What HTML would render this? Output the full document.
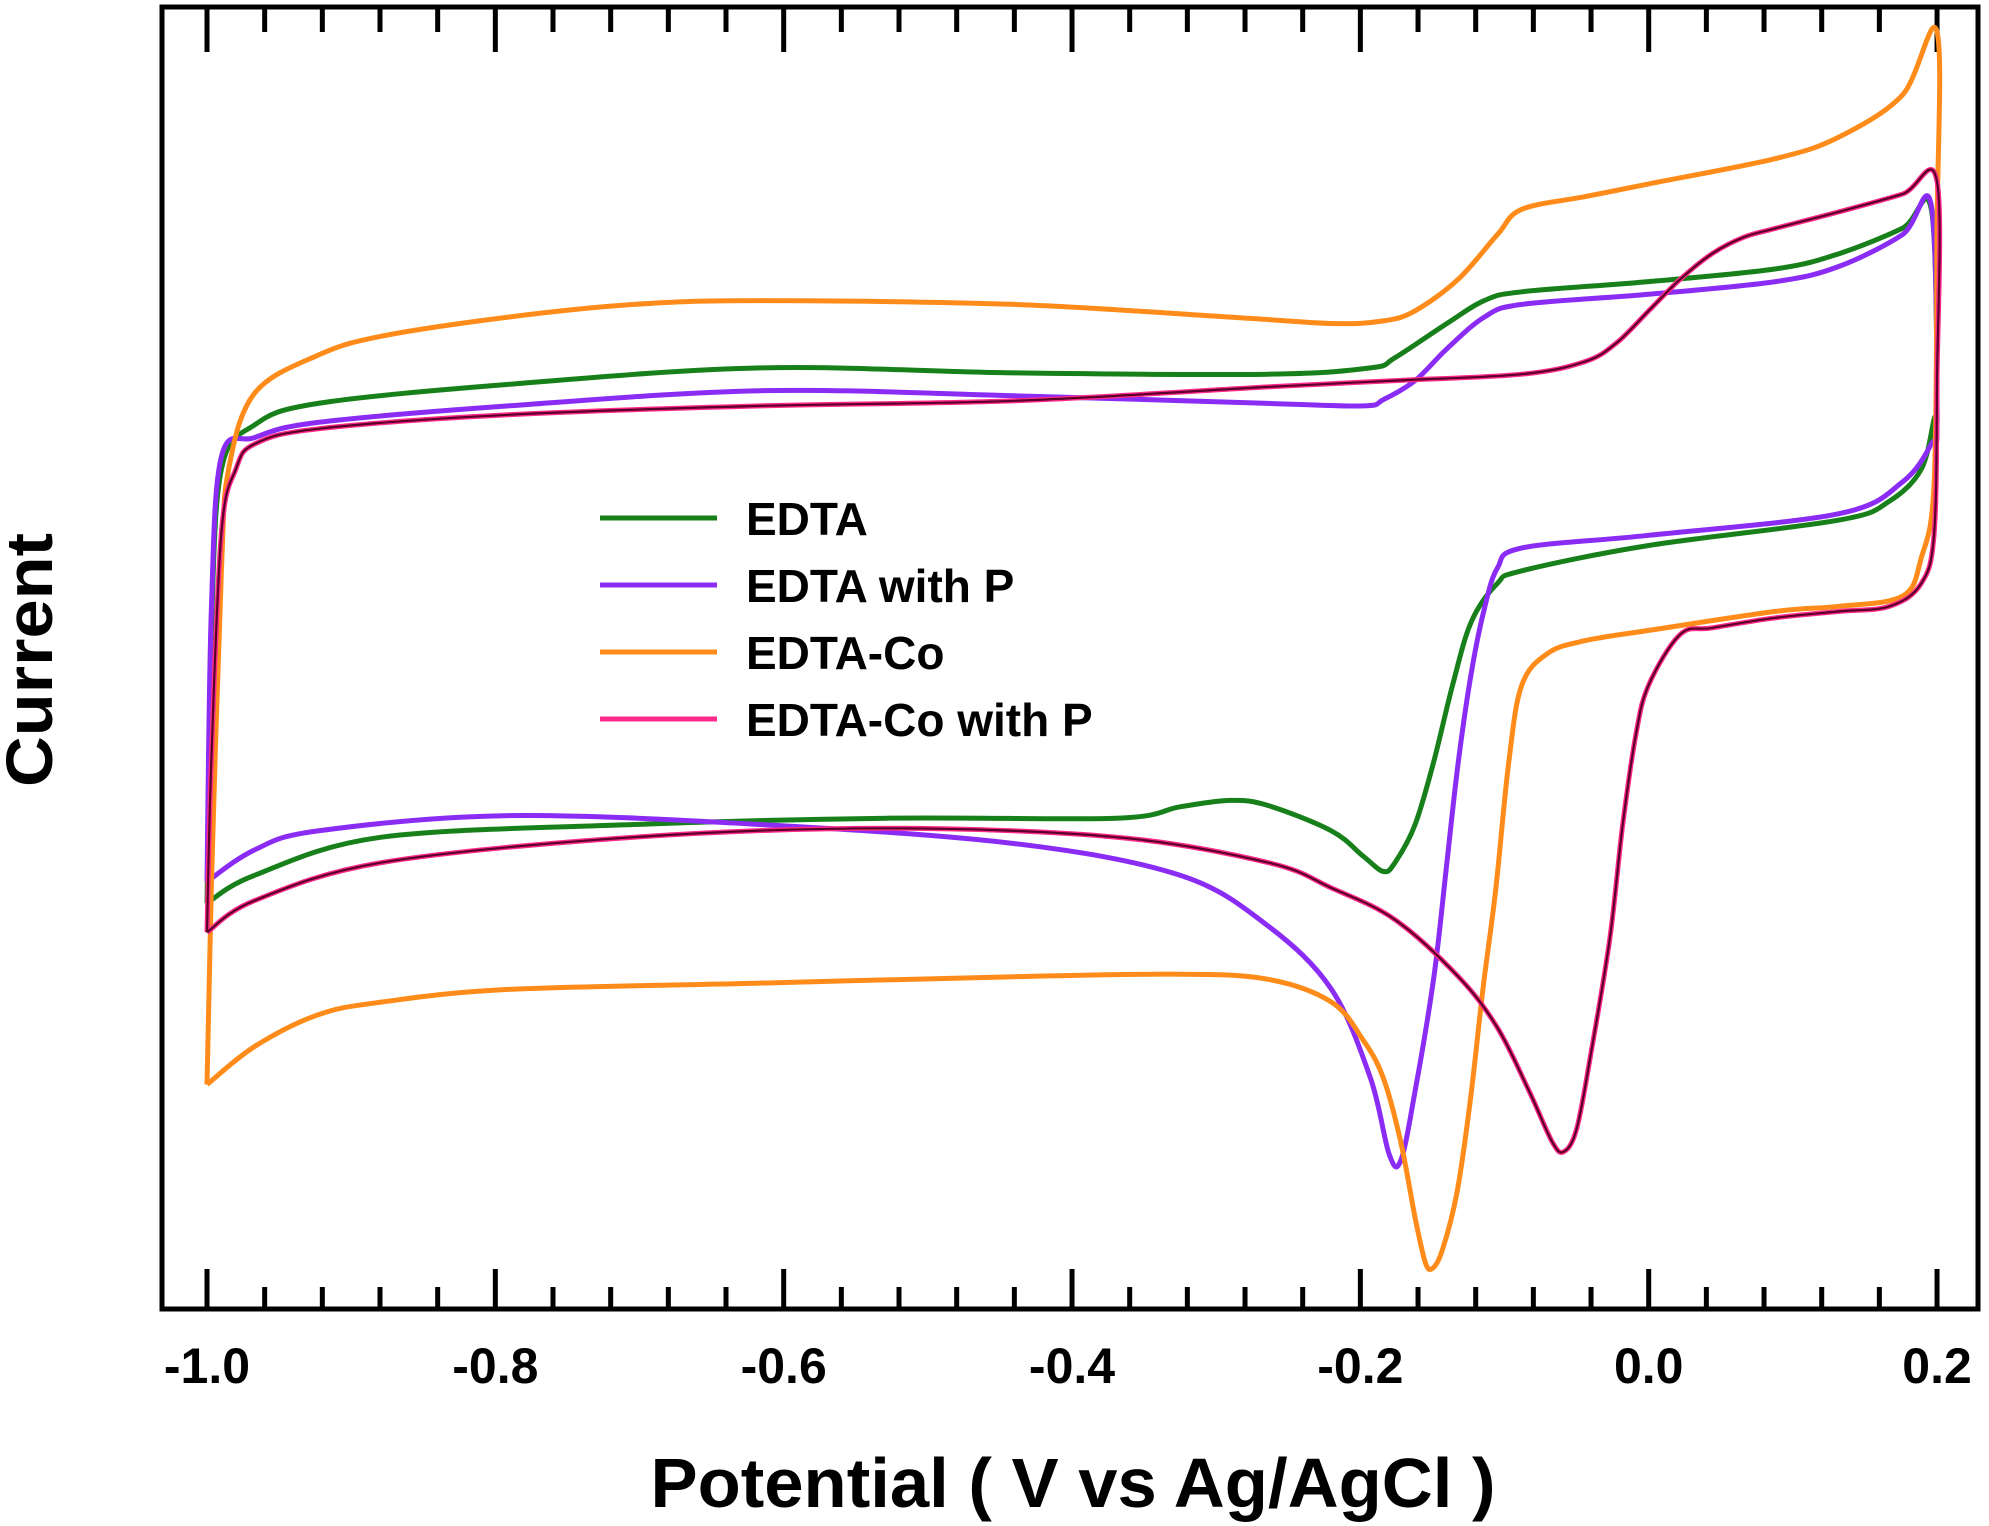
<!DOCTYPE html>
<html><head><meta charset="utf-8"><style>
html,body{margin:0;padding:0;background:#fff;}
svg{display:block;font-family:"Liberation Sans",Arial,sans-serif;}
</style></head><body>
<svg id="chart" width="1989" height="1526" viewBox="0 0 1989 1526" xmlns="http://www.w3.org/2000/svg">
<g id="ticks"></g>
<g id="series"></g>
<rect x="162" y="7" width="1816" height="1302" fill="none" stroke="#000" stroke-width="5"/>
<g id="xlabels" font-weight="bold" font-size="50" text-anchor="middle"></g>
<text x="1073" y="1507" font-size="70" font-weight="bold" text-anchor="middle" textLength="845" lengthAdjust="spacingAndGlyphs">Potential ( V vs Ag/AgCl )</text>
<text transform="translate(52,660) rotate(-90)" font-size="66" font-weight="bold" text-anchor="middle" textLength="254" lengthAdjust="spacingAndGlyphs">Current</text>
<g id="legend" font-size="46" font-weight="bold"></g>
</svg>
<script>
const tickLabels = ["-1.0","-0.8","-0.6","-0.4","-0.2","0.0","0.2"];
const tickValues = [-1.0,-0.8,-0.6,-0.4,-0.2,0.0,0.2];
const seriesNames = ["EDTA","EDTA with P","EDTA-Co","EDTA-Co with P"];
const edtaE = [-1.0,-0.997,-0.99,-0.967,-0.923,-0.791,-0.616,-0.44,-0.264,-0.193,-0.176,-0.14,-0.114,-0.088,0.0,0.088,0.132,0.176,0.196,0.2,0.198,0.189,0.167,0.132,0.0,-0.088,-0.105,-0.123,-0.136,-0.149,-0.162,-0.176,-0.184,-0.198,-0.22,-0.264,-0.29,-0.325,-0.369,-0.528,-0.704,-0.879,-0.967,-1.0];
const edtaI = [32.0,53.2,66.2,69.7,71.4,72.9,74.2,73.8,73.7,74.2,75.0,77.7,79.5,80.2,81.0,82.0,83.2,85.2,86.7,71.2,70.2,66.2,63.7,62.2,60.2,58.2,57.2,54.2,49.2,43.2,38.2,35.2,34.5,35.7,37.7,39.7,40.1,39.6,38.7,38.7,38.2,37.2,34.2,32.0];
const edtaPE = [-1.0,-0.997,-0.99,-0.967,-0.923,-0.791,-0.616,-0.44,-0.264,-0.198,-0.184,-0.162,-0.14,-0.114,-0.088,0.0,0.088,0.132,0.176,0.196,0.2,0.196,0.176,0.132,0.0,-0.088,-0.105,-0.114,-0.123,-0.132,-0.14,-0.149,-0.162,-0.172,-0.18,-0.193,-0.22,-0.264,-0.325,-0.44,-0.616,-0.791,-0.923,-0.967,-1.0];
const edtaPI = [33.7,55.0,67.2,68.7,69.9,71.2,72.4,72.0,71.4,71.2,71.7,73.2,75.7,78.2,79.2,80.0,81.0,82.2,84.7,87.0,70.2,68.2,65.2,62.7,61.0,60.0,58.4,55.2,50.2,43.2,35.2,26.2,17.2,11.7,12.2,18.2,25.2,30.2,34.2,36.7,38.2,38.9,37.7,36.2,33.7];
const coE = [-1.0,-0.997,-0.99,-0.985,-0.967,-0.923,-0.879,-0.791,-0.704,-0.616,-0.44,-0.29,-0.22,-0.184,-0.162,-0.132,-0.105,-0.088,-0.044,0.0,0.088,0.132,0.176,0.2,0.2,0.198,0.189,0.176,0.132,0.088,0.0,-0.044,-0.07,-0.088,-0.097,-0.106,-0.115,-0.124,-0.133,-0.143,-0.150,-0.155,-0.162,-0.172,-0.184,-0.198,-0.22,-0.264,-0.325,-0.44,-0.616,-0.791,-0.879,-0.923,-0.967,-1.0];
const coI = [17.7,33.2,58.2,66.2,72.2,75.2,76.7,78.2,79.2,79.5,79.2,78.2,77.7,77.9,78.7,81.2,84.7,86.7,87.7,88.7,90.7,92.4,95.7,100.7,85.2,65.2,59.2,56.2,55.4,55.0,53.5,52.7,51.7,49.2,43.2,33.2,25.2,16.2,9.2,4.7,3.2,3.7,7.2,13.2,18.2,21.2,24.2,26.0,26.4,26.2,25.7,25.2,24.2,23.2,20.7,17.7];
const coPE = [-1.0,-0.997,-0.99,-0.98,-0.967,-0.923,-0.791,-0.616,-0.44,-0.264,-0.176,-0.088,-0.044,-0.022,0.0,0.022,0.044,0.066,0.088,0.132,0.176,0.2,0.2,0.198,0.189,0.167,0.132,0.088,0.044,0.022,0.0,-0.009,-0.018,-0.027,-0.04,-0.05,-0.059,-0.067,-0.083,-0.105,-0.132,-0.176,-0.22,-0.264,-0.369,-0.528,-0.704,-0.879,-0.967,-1.0];
const coPI = [29.7,43.2,61.2,66.2,68.2,69.4,70.5,71.2,71.6,72.7,73.2,73.7,74.7,76.2,78.7,81.2,83.2,84.5,85.2,86.5,87.9,88.9,73.2,61.2,57.2,55.4,55.0,54.5,53.7,53.2,49.2,45.2,38.2,29.2,20.2,14.2,12.4,13.2,17.2,22.2,26.2,30.7,33.2,35.2,37.2,37.9,37.2,35.2,32.2,29.7];

const NS = "http://www.w3.org/2000/svg";
function xs(e){ return 207 + (e + 1.0) * 1441.7; }
function ys(i){ return (103.2 - i) * 12.685; }
function mk(tag, attrs, parent){ const el = document.createElementNS(NS, tag); for (const k in attrs) el.setAttribute(k, attrs[k]); parent.appendChild(el); return el; }

const tg = document.getElementById('ticks');
for (let k = 0; k <= 30; k++) {
  const e = -1.0 + k * 0.04;
  const major = (k % 5 === 0);
  const x = xs(e);
  const t1 = mk('line', {x1:x, x2:x, y1:1309, y2:1309-(major?40:22), stroke:'#000', 'stroke-width':5}, tg);
  
  
  const t2 = mk('line', {x1:x, x2:x, y1:7, y2:7+(major?45:25), stroke:'#000', 'stroke-width':5}, tg);
  
  
}
const xl = document.getElementById('xlabels');
tickValues.forEach((v, idx) => {
  const t = mk('text', {x: xs(v), y: 1383}, xl);
  t.textContent = tickLabels[idx];
  
  
});

const sg = document.getElementById('series');
function path(E, I){
  const p = E.map((e, k) => [xs(e), ys(I[k])]);
  let d = 'M' + p[0][0].toFixed(1) + ' ' + p[0][1].toFixed(1);
  const t = 0.5 / 3;
  for (let k = 0; k < p.length - 1; k++) {
    const p0 = p[Math.max(0, k-1)], p1 = p[k], p2 = p[k+1], p3 = p[Math.min(p.length-1, k+2)];
    const c1x = p1[0] + (p2[0]-p0[0])*t, c1y = p1[1] + (p2[1]-p0[1])*t;
    const c2x = p2[0] - (p3[0]-p1[0])*t, c2y = p2[1] - (p3[1]-p1[1])*t;
    d += ' C' + c1x.toFixed(1) + ' ' + c1y.toFixed(1) + ' ' + c2x.toFixed(1) + ' ' + c2y.toFixed(1) + ' ' + p2[0].toFixed(1) + ' ' + p2[1].toFixed(1);
  }
  return d;
}
const s1 = mk('path', {d: path(edtaE, edtaI), fill:'none', stroke:'#18801a', 'stroke-width':5, 'stroke-linejoin':'round'}, sg);


const s2 = mk('path', {d: path(edtaPE, edtaPI), fill:'none', stroke:'#8b2cf5', 'stroke-width':5, 'stroke-linejoin':'round'}, sg);


const s3 = mk('path', {d: path(coE, coI), fill:'none', stroke:'#ff8c1a', 'stroke-width':5, 'stroke-linejoin':'round'}, sg);


const s4a = mk('path', {d: path(coPE, coPI), fill:'none', stroke:'#ff2a8a', 'stroke-width':5, 'stroke-linejoin':'round'}, sg);


const s4 = mk('path', {d: path(coPE, coPI), fill:'none', stroke:'#5a0028', 'stroke-width':2.2, 'stroke-linejoin':'round'}, sg);



const lg = document.getElementById('legend');
const lcolors = ['#18801a','#8b2cf5','#ff8c1a','#ff2a8a'];
seriesNames.forEach((n, k) => {
  const y = 518 + k * 67;
  const l = mk('line', {x1:600, x2:717, y1:y, y2:y, stroke:lcolors[k], 'stroke-width':5}, lg);
  
  
  const t = mk('text', {x:746, y:y+17}, lg);
  t.textContent = n;
  
  
});
</script>
</body></html>
